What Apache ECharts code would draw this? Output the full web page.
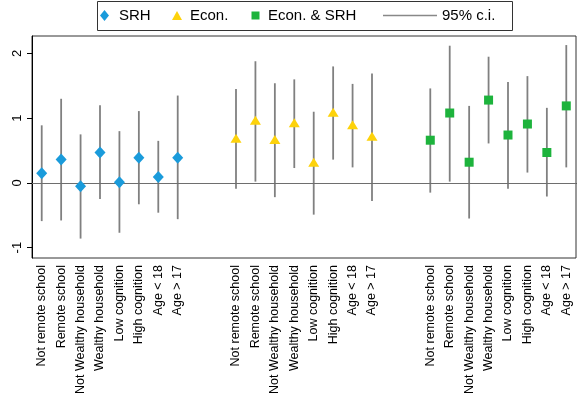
<!DOCTYPE html>
<html>
<head>
<meta charset="utf-8">
<script src="https://cdn.jsdelivr.net/npm/echarts@6/dist/echarts.min.js"></script>
<style>html,body{margin:0;padding:0;background:#fff}#c{width:577px;height:400px}</style>
</head>
<body>
<div id="c"></div>
<script>
// ---- data ----
var subgroups = ['Not remote school','Remote school','Not Wealthy household','Wealthy household','Low cognition','High cognition','Age < 18','Age > 17'];
var srhEst  = [0.15, 0.36, -0.05, 0.47, 0.01, 0.39, 0.09, 0.39];
var srhLo   = [-0.59, -0.58, -0.86, -0.25, -0.77, -0.33, -0.46, -0.56];
var srhHi   = [0.89, 1.30, 0.75, 1.20, 0.80, 1.11, 0.65, 1.35];
var econEst = [0.69, 0.97, 0.67, 0.93, 0.32, 1.09, 0.90, 0.72];
var econLo  = [-0.09, 0.02, -0.22, 0.23, -0.49, 0.36, 0.24, -0.28];
var econHi  = [1.45, 1.88, 1.54, 1.60, 1.10, 1.80, 1.53, 1.69];
var bothEst = [0.66, 1.08, 0.32, 1.28, 0.74, 0.91, 0.47, 1.19];
var bothLo  = [-0.15, 0.02, -0.55, 0.61, -0.09, 0.16, -0.21, 0.24];
var bothHi  = [1.46, 2.12, 1.19, 1.95, 1.56, 1.65, 1.16, 2.13];
var yTicks  = [-1, 0, 1, 2];
var seriesNames = ['SRH', 'Econ.', 'Econ. & SRH', '95% c.i.'];

// ---- build slots: 3 groups of 8 with 2 empty slots between ----
var GAP = 2, N = subgroups.length;
var cats = [], tickSlot = [];
var groups = [[srhEst, srhLo, srhHi], [econEst, econLo, econHi], [bothEst, bothLo, bothHi]];
var pts = [[], [], []], ci = [];
groups.forEach(function (g, gi) {
  if (gi > 0) { for (var k = 0; k < GAP; k++) { cats.push(''); tickSlot.push(false); } }
  for (var i = 0; i < N; i++) {
    var idx = cats.length;
    cats.push(subgroups[i]); tickSlot.push(true);
    pts[gi].push([idx, g[0][i]]);
    ci.push([idx, g[1][i], g[2][i]]);
  }
});

var FONT = '"Liberation Sans", Arial, Helvetica, sans-serif';
var colors = ['#1a9bdb', '#fdd20b', '#1db33c'];

var chart = echarts.init(document.getElementById('c'), null, {renderer: 'canvas'});
function legendItem(name, left, icon, w, h, color, pad) {
  return {
    left: left, top: 8, data: [{name: name, icon: icon, itemStyle: {color: color, borderWidth: 0}}],
    itemWidth: w, itemHeight: h, selectedMode: false,
    padding: 0, textStyle: {fontSize: 15, color: '#000', fontFamily: FONT, padding: [0, 0, 0, pad]}
  };
}
chart.setOption({
  animation: false,
  backgroundColor: '#fff',
  textStyle: {fontFamily: FONT},
  graphic: [{type: 'rect', shape: {x: 97.5, y: 1.5, width: 415, height: 29}, style: {fill: 'none', stroke: '#333', lineWidth: 1}, silent: true}],
  legend: [
    legendItem(seriesNames[0], 100, 'diamond', 9, 11, colors[0], 5),
    legendItem(seriesNames[1], 172, 'triangle', 10, 9, colors[1], 3),
    legendItem(seriesNames[2], 251.5, 'rect', 8, 8, colors[2], 3.5),
    legendItem(seriesNames[3], 383, 'rect', 54, 1.5, '#888', 0)
  ],
  grid: {left: 32, right: 1, top: 36, bottom: 142, show: true, borderColor: '#333', borderWidth: 1, backgroundColor: '#fff'},
  xAxis: {
    type: 'category', data: cats, boundaryGap: true,
    axisLine: {lineStyle: {color: '#000', width: 1}},
    axisTick: {alignWithLabel: true, length: 5, lineStyle: {color: '#000'}, interval: function (i) { return tickSlot[i]; }},
    axisLabel: {interval: 0, rotate: 90, fontSize: 12.5, color: '#000', margin: 7, fontFamily: FONT},
    splitLine: {show: false}
  },
  yAxis: {
    type: 'value', min: -1.16, max: 2.27,
    axisLine: {show: true, lineStyle: {color: '#000', width: 1}},
    axisTick: {show: true, length: 5, customValues: yTicks, lineStyle: {color: '#000'}},
    axisLabel: {customValues: yTicks, rotate: 90, fontSize: 13, color: '#000', margin: 8, fontFamily: FONT},
    splitLine: {show: false}
  },
  series: [
    {
      name: seriesNames[3], type: 'custom', data: ci, encode: {x: 0, y: [1, 2]}, z: 2,
      itemStyle: {color: '#888'},
      renderItem: function (params, api) {
        var a = api.coord([api.value(0), api.value(1)]);
        var b = api.coord([api.value(0), api.value(2)]);
        return {type: 'line', shape: {x1: a[0], y1: a[1], x2: b[0], y2: b[1]}, style: {stroke: '#808080', lineWidth: 1.8}};
      },
      markLine: {silent: true, symbol: 'none', label: {show: false}, lineStyle: {color: '#6e6e6e', width: 1, type: 'solid'}, data: [{yAxis: 0}], animation: false}
    },
    {name: seriesNames[0], type: 'scatter', data: pts[0], symbol: 'diamond', symbolSize: [11, 12], itemStyle: {color: colors[0], opacity: 1}, z: 5},
    {name: seriesNames[1], type: 'scatter', data: pts[1], symbol: 'triangle', symbolSize: [11, 9], itemStyle: {color: colors[1], opacity: 1}, z: 5},
    {name: seriesNames[2], type: 'scatter', data: pts[2], symbol: 'rect', symbolSize: [9, 9], itemStyle: {color: colors[2], opacity: 1}, z: 5}
  ]
});
</script>
</body>
</html>
